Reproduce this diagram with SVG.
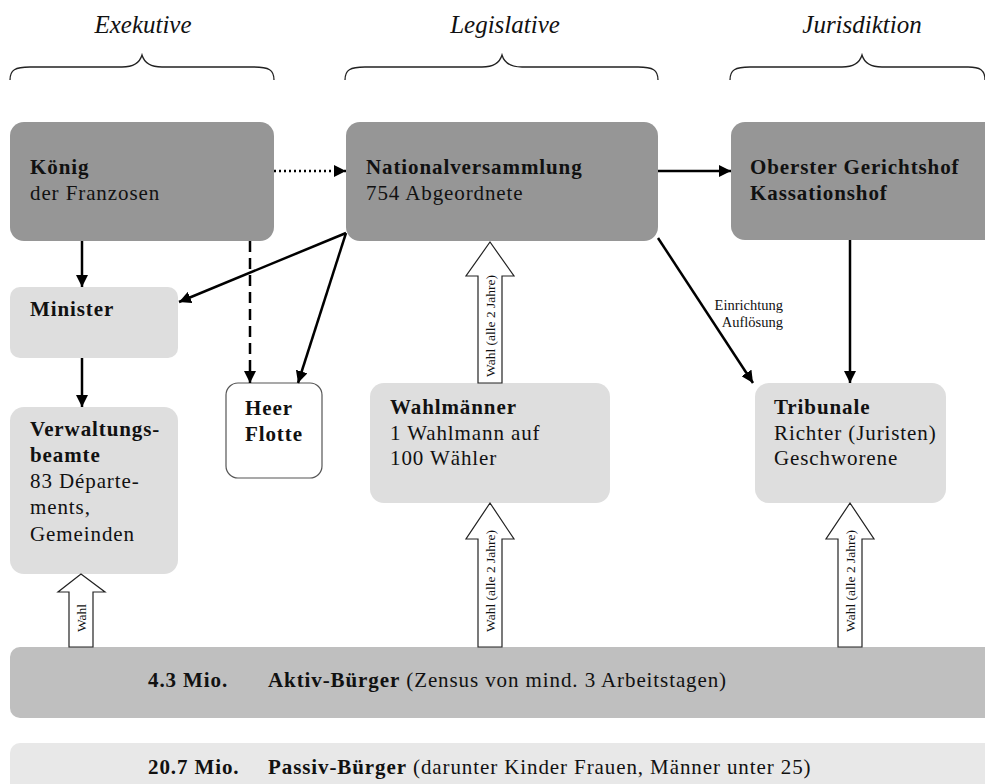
<svg xmlns="http://www.w3.org/2000/svg" width="985" height="784" viewBox="0 0 985 784">
<style>
text{font-family:"Liberation Serif","Times New Roman",serif;fill:#111}
.hd{font-style:italic;font-size:25px;text-anchor:middle}
.t{font-size:21px;letter-spacing:0.9px}
.b{font-weight:bold}
.dark{fill:#969696}
.light{fill:#dedede}
.brace{fill:none;stroke:#222;stroke-width:1.3}
.con{stroke:#000;stroke-width:2.5;fill:none}
.blk{fill:#fff;stroke:#222;stroke-width:1.2}
.rt{font-size:13.5px;text-anchor:middle}
.sm{font-size:14.5px;text-anchor:end}
</style>
<defs>
<marker id="ah" viewBox="0 0 12 12" refX="12" refY="6" markerWidth="12" markerHeight="12" markerUnits="userSpaceOnUse" orient="auto">
<path d="M0,0 L12,6 L0,12 Z" fill="#000"/>
</marker>
</defs>

<g id="headers">
<text class="hd" x="143" y="33">Exekutive</text>
<text class="hd" x="505" y="33">Legislative</text>
<text class="hd" x="862" y="33">Jurisdiktion</text>
<path class="brace" d="M10,80 C10,70 15,67 30,67 L122,67 C135,67 140,62 142,55 C144,62 149,67 162,67 L254,67 C269,67 274,70 274,80"/>
<path class="brace" d="M345,80 C345,70 350,67 365,67 L482,67 C495,67 500,62 502,55 C504,62 509,67 522,67 L638,67 C653,67 658,70 658,80"/>
<path class="brace" d="M730,80 C730,70 735,67 750,67 L842,67 C855,67 860,62 862,55 C864,62 869,67 882,67 L968,67 C980,67 985,70 985,80"/>
</g>

<g id="koenig">
<rect class="dark" x="10" y="122" width="264" height="119" rx="14"/>
<text class="t b" x="30" y="174">König</text>
<text class="t" x="30" y="200">der Franzosen</text>
</g>
<g id="nationalversammlung">
<rect class="dark" x="346" y="122" width="312" height="119" rx="14"/>
<text class="t b" x="366" y="174">Nationalversammlung</text>
<text class="t" x="366" y="200">754 Abgeordnete</text>
</g>
<g id="oberster">
<rect class="dark" x="731" y="122" width="270" height="118" rx="14"/>
<text class="t b" x="750" y="174">Oberster Gerichtshof</text>
<text class="t b" x="750" y="200">Kassationshof</text>
</g>
<g id="minister">
<rect class="light" x="10" y="287" width="168" height="71" rx="10"/>
<text class="t b" x="30" y="316">Minister</text>
</g>
<g id="verwaltung">
<rect class="light" x="10" y="407" width="168" height="167" rx="14"/>
<text class="t b" x="30" y="436">Verwaltungs-</text>
<text class="t b" x="30" y="462">beamte</text>
<text class="t" x="30" y="488">83 Départe-</text>
<text class="t" x="30" y="514">ments,</text>
<text class="t" x="30" y="541">Gemeinden</text>
</g>
<g id="heer">
<rect x="226" y="383" width="96" height="95" rx="12" fill="#fff" stroke="#555" stroke-width="1.2"/>
<text class="t b" x="245" y="415">Heer</text>
<text class="t b" x="245" y="441">Flotte</text>
</g>
<g id="wahlmaenner">
<rect class="light" x="370" y="383" width="240" height="120" rx="14"/>
<text class="t b" x="390" y="414">Wahlmänner</text>
<text class="t" x="390" y="440">1 Wahlmann auf</text>
<text class="t" x="390" y="465">100 Wähler</text>
</g>
<g id="tribunale">
<rect class="light" x="755" y="383" width="191" height="120" rx="14"/>
<text class="t b" x="774" y="414">Tribunale</text>
<text class="t" x="774" y="440">Richter (Juristen)</text>
<text class="t" x="774" y="465">Geschworene</text>
</g>
<g id="aktiv">
<rect x="10" y="647" width="1000" height="71" rx="10" fill="#bfbfbf"/>
<text class="t b" x="148" y="687">4.3 Mio.</text>
<text class="t" x="268" y="687"><tspan class="b">Aktiv-Bürger</tspan> (Zensus von mind. 3 Arbeitstagen)</text>
</g>
<g id="passiv">
<rect x="10" y="743" width="1000" height="71" rx="10" fill="#e8e8e8"/>
<text class="t b" x="148" y="774">20.7 Mio.</text>
<text class="t" x="268" y="774"><tspan class="b">Passiv-Bürger</tspan> (darunter Kinder Frauen, Männer unter 25)</text>
</g>

<g id="connectors">
<line class="con" x1="274" y1="171" x2="346" y2="171" stroke-dasharray="2 3" stroke-width="2" marker-end="url(#ah)"/>
<line class="con" x1="658" y1="171" x2="731" y2="171" marker-end="url(#ah)"/>
<line class="con" x1="82" y1="241" x2="82" y2="287" marker-end="url(#ah)"/>
<line class="con" x1="250" y1="241" x2="250" y2="383" stroke-dasharray="11 6" marker-end="url(#ah)"/>
<line class="con" x1="346" y1="233" x2="179" y2="302" marker-end="url(#ah)"/>
<line class="con" x1="346" y1="233" x2="298" y2="383" marker-end="url(#ah)"/>
<line class="con" x1="82" y1="358" x2="82" y2="407" marker-end="url(#ah)"/>
<line class="con" x1="658" y1="238" x2="753" y2="383" marker-end="url(#ah)"/>
<line class="con" x1="850" y1="240" x2="850" y2="383" marker-end="url(#ah)"/>
<text class="sm" x="783" y="310">Einrichtung</text>
<text class="sm" x="783" y="327">Auflösung</text>

<path class="blk" d="M478,383 L478,276 L466,276 L490,242 L514,276 L502,276 L502,383 Z"/>
<text class="rt" transform="translate(495,326) rotate(-90)">Wahl (alle 2 Jahre)</text>
<path class="blk" d="M478,647 L478,539 L466,539 L490,503 L514,539 L502,539 L502,647 Z"/>
<text class="rt" transform="translate(495,581) rotate(-90)">Wahl (alle 2 Jahre)</text>
<path class="blk" d="M838,647 L838,539 L826,539 L850,503 L874,539 L862,539 L862,647 Z"/>
<text class="rt" transform="translate(855,581) rotate(-90)">Wahl (alle 2 Jahre)</text>
<path class="blk" d="M69,647 L69,592 L58,592 L81,574 L105,592 L93,592 L93,647 Z"/>
<text class="rt" transform="translate(86,618) rotate(-90)">Wahl</text>
</g>
</svg>
